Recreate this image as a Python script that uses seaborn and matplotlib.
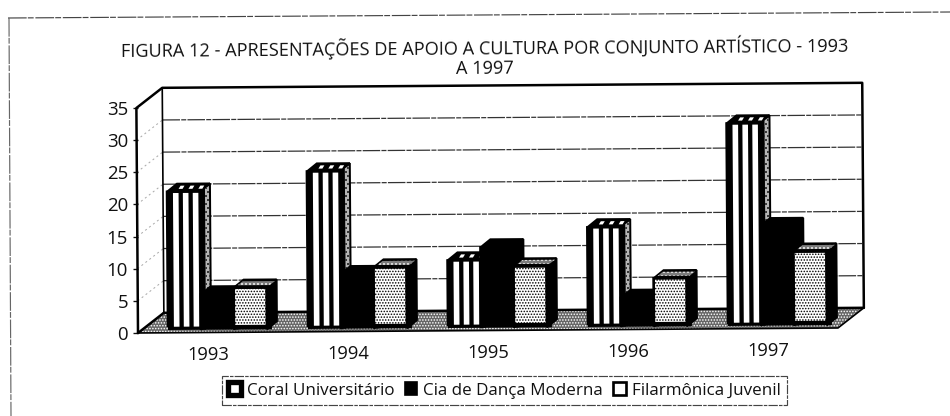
import matplotlib
matplotlib.use('Agg')
import matplotlib.pyplot as plt
import pandas as pd
import seaborn as sns
from matplotlib.lines import Line2D
from matplotlib.patches import Patch, Polygon, Rectangle
from matplotlib.transforms import Affine2D

# Datos
anos = ['1993', '1994', '1995', '1996', '1997']
conjuntos = ['Coral Universitário', 'Cia de Dança Moderna', 'Filarmônica Juvenil']
coral = [21, 24, 10, 15, 31]
cia = [5, 8, 12, 4, 15]
filarmonica = [6, 9, 9, 7, 11]
titulo = 'FIGURA 12 - APRESENTAÇÕES DE APOIO A CULTURA POR CONJUNTO ARTÍSTICO - 1993\nA 1997'

df = pd.DataFrame({
    'ano': anos * 3,
    'valor': coral + cia + filarmonica,
    'conjunto': [c for c in conjuntos for _ in anos],
})

sns.set_theme(style='white')
plt.rcParams['font.family'] = ['Open Sans', 'DejaVu Sans']
plt.rcParams['hatch.linewidth'] = 0.6

W, H, DPI = 950, 416, 120
fig = plt.figure(figsize=(W / DPI, H / DPI), dpi=DPI, facecolor='white')


def caja(x0, y_base, ancho, alto):
    # caja en pixeles de la imagen (y hacia abajo) a fraccion de figura
    return [x0 / W, (H - y_base) / H, ancho / W, alto / H]


# el plano frontal va de x=138 a 838 y de y=333 a 108
ax = fig.add_axes(caja(138, 333, 700, 225))
ax_b = fig.add_axes(caja(147.5, 327, 700, 225), zorder=2)
ax_b.patch.set_alpha(0)

sns.barplot(data=df, x='ano', y='valor', hue='conjunto', hue_order=conjuntos,
            palette=['black', 'black', 'white'], saturation=1, width=0.707, gap=0,
            legend=False, edgecolor='black', linewidth=1.5, ax=ax_b)

for a in (ax, ax_b):
    a.set_xlim(-0.5, 4.5)
    a.set_ylim(0, 35)
ax_b.axis('off')

ax.set_xticks(range(5))
ax.set_xticklabels(anos)
ax.set_yticks(range(0, 40, 5))
ax.set_xlabel('')
ax.set_ylabel('')
ax.tick_params(axis='x', labelsize=11, length=0, pad=8, colors='#111111')
ax.tick_params(axis='y', labelsize=11.2, length=3, width=0.8, pad=3, left=True, colors='#111111')
for s in ax.spines.values():
    s.set_visible(False)
ax.patch.set_alpha(0)

# unidades de datos por pixel
ux = 5 / 700
uy = 35 / 225
fx, fy = 26 * ux, 20 * uy   # profundidad del piso
dx, dy = 10 * ux, 8 * uy    # profundidad de cada barra
x0, x1 = -0.5, 4.5

# piso y paredes
ax.add_patch(Polygon([(x0, 0), (x1, 0), (x1 + fx, fy), (x0 + fx, fy)], closed=True,
                     facecolor='#666666', edgecolor='white', hatch='.......', lw=0, clip_on=False, zorder=1))
ax.plot([x0, x1, x1 + fx], [0, 0, fy], color='black', lw=1.0, clip_on=False, zorder=2)
for v in range(5, 35, 5):
    ax.plot([x0 + fx, x1 + fx], [v + fy, v + fy], color='#333333', lw=0.75,
            ls=(0, (14, 1, 4, 1)), clip_on=False, zorder=1)
    ax.plot([x0, x0 + fx], [v, v + fy], color='#aaaaaa', lw=0.6, ls=(0, (2, 3)), clip_on=False, zorder=1)
ax.plot([x0, x0, x0 + fx, x1 + fx, x1 + fx], [0, 35, 35 + fy, 35 + fy, fy],
        color='black', lw=1.5, clip_on=False, zorder=3)
ax.plot([x0 + fx, x0 + fx], [fy, 35 + fy], color='black', lw=1.0, clip_on=False, zorder=3)
ax.plot([x0, x0 + fx], [0, fy], color='black', lw=1.5, clip_on=False, zorder=3)
ax.plot([x0 + fx, x1 + fx], [fy, fy], color='black', lw=1.5, clip_on=False, zorder=2)

# caras laterales y superiores de las barras
for i, cont in enumerate(ax_b.containers):
    z = 3 + i
    for bar in cont:
        bx, bw, h = bar.get_x(), bar.get_width(), bar.get_height()
        bar.set_zorder(z)
        ax_b.add_patch(Rectangle((bx, -0.5), bw + dx * 0.5, 0.5, fc='black', lw=0, clip_on=False, zorder=z))
        ax_b.add_patch(Polygon([(bx + bw, -0.5), (bx + bw + dx, dy - 0.5), (bx + bw + dx, h + dy), (bx + bw, h)],
                               closed=True, fc='black', ec='black', lw=1.2, clip_on=False, zorder=z))
        ax_b.add_patch(Polygon([(bx, h), (bx + bw, h), (bx + bw + dx, h + dy), (bx + dx, h + dy)],
                               closed=True, fc='black', ec='black', lw=1.2, zorder=z))
        if i == 0:
            # tres franjas blancas al frente y sus puntos arriba
            for k in (0.18, 0.48, 0.78):
                ax_b.add_patch(Rectangle((bx + k * bw, 0), 0.17 * bw, h - 0.2, fc='white', lw=0, zorder=z + 0.1))
                ax_b.add_patch(Polygon([(bx + (k + 0.05) * bw + dx * 0.4, h + dy * 0.35),
                                        (bx + (k + 0.17) * bw + dx * 0.4, h + dy * 0.35),
                                        (bx + (k + 0.17) * bw + dx * 0.6, h + dy * 0.75),
                                        (bx + (k + 0.05) * bw + dx * 0.6, h + dy * 0.75)],
                                       closed=True, fc='white', lw=0, zorder=z + 0.1))
            # franja punteada en el costado
            sx0, sx1 = bx + bw + dx * 0.5, bx + bw + dx * 0.9
            ax_b.add_patch(Polygon([(sx0, dy * 0.6), (sx1, dy * 0.95), (sx1, h + dy * 0.7), (sx0, h + dy * 0.35)],
                                   closed=True, fc='#b5b5b5', ec='black', hatch='.....', lw=0, zorder=z + 0.1))
        if i == 2:
            bar.set_hatch('.......')
            bar.set_edgecolor('black')
            bar.set_linewidth(1.6)
            ax_b.add_patch(Polygon([(bx + dx * 0.4, h + dy * 0.3), (bx + bw + dx * 0.3, h + dy * 0.3),
                                    (bx + bw + dx * 0.85, h + dy * 0.8), (bx + dx * 0.9, h + dy * 0.8)],
                                   closed=True, fc='#7d7d7d', ec='white', hatch='.....', lw=0, zorder=z + 0.1))

# la hoja esta escaneada con una leve inclinacion
tilt = Affine2D().rotate_deg_around(138, H - 333, 0.41)
for a in (ax, ax_b):
    for p in a.patches:
        p.set_transform(p.get_data_transform() + tilt)
    for ln in a.lines:
        ln.set_transform(ln.get_transform() + tilt)
for tick in ax.xaxis.get_major_ticks():
    tick.label1.set_transform(tick.label1.get_transform() + tilt)

fig.text(485 / W, 1 - 57 / H, titulo, ha='center', va='center', fontsize=10.85,
         color='#111111', rotation=0.41, linespacing=1.1, multialignment='center')

# marco de la hoja
marco = (0, (16, 1, 5, 1.5))
fig.add_artist(Line2D([8 / W, 1], [1 - 18 / H, 1 - 12 / H], color='#444444', lw=0.7, ls=marco))
fig.add_artist(Line2D([9 / W, 11 / W], [1 - 18 / H, 0], color='#666666', lw=0.7, ls=marco))

# leyenda
handles = [Patch(fc='white', ec='black', lw=3.2), Patch(fc='black', ec='black'),
           Patch(fc='white', ec='black', lw=1.6)]
leg = fig.legend(handles, conjuntos, ncol=3, loc='center', bbox_to_anchor=(504.5 / W, 1 - 390.5 / H),
                 fontsize=10.2, frameon=True, fancybox=False, edgecolor='#444444', framealpha=1,
                 handlelength=0.75, handleheight=0.75, handletextpad=0.35, columnspacing=0.6,
                 borderpad=0.35, labelcolor='#111111')
leg.get_frame().set_linewidth(0.7)
leg.get_frame().set_linestyle((0, (8, 1, 3, 1)))

fig.savefig('out.png', dpi=DPI)
